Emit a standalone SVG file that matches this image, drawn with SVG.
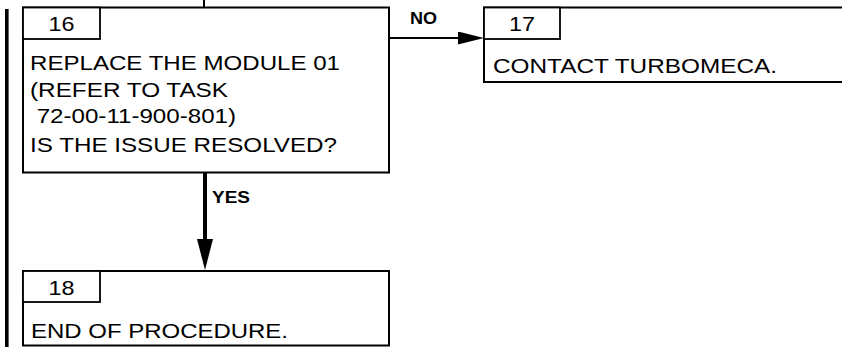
<svg xmlns="http://www.w3.org/2000/svg" width="842" height="347" viewBox="0 0 842 347">
  <style>
    .box { fill: #fff; stroke: #000; stroke-width: 2; }
    .tab { fill: #fff; stroke: #000; stroke-width: 1.8; }
    .t { font-family: "Liberation Sans", Arial, sans-serif; font-size: 21px; fill: #000; }
    .num { text-anchor: middle; }
    .lbl { font-family: "Liberation Sans", Arial, sans-serif; font-size: 16px; font-weight: bold; fill: #000; }
    .conn { fill: none; stroke: #000; }
  </style>
  <defs>
    <marker id="headNo" markerUnits="userSpaceOnUse" markerWidth="26" markerHeight="13" viewBox="0 0 26 13" refX="0" refY="6.5" orient="auto">
      <path d="M0,0 L26,6.5 L0,13 Z" fill="#000"/>
    </marker>
    <marker id="headYes" markerUnits="userSpaceOnUse" markerWidth="31" markerHeight="16" viewBox="0 0 31 16" refX="0" refY="8" orient="auto">
      <path d="M0,0 L31,8 L0,16 Z" fill="#000"/>
    </marker>
  </defs>
  <rect width="842" height="347" fill="#fff"/>

  <!-- left change bar -->
  <rect x="5" y="9" width="3.6" height="338" fill="#000"/>

  <g id="connectors">
    <line class="conn" x1="204" y1="0" x2="204" y2="7" stroke-width="2"/>
    <line class="conn" x1="389" y1="38" x2="458" y2="38" stroke-width="2" marker-end="url(#headNo)"/>
    <line class="conn" x1="205" y1="173" x2="205" y2="239" stroke-width="4" marker-end="url(#headYes)"/>
    <text class="lbl" x="410" y="24" textLength="27" lengthAdjust="spacingAndGlyphs">NO</text>
    <text class="lbl" x="212" y="203" textLength="38" lengthAdjust="spacingAndGlyphs">YES</text>
  </g>

  <g id="node16">
    <rect class="box" x="23" y="7.5" width="366" height="165"/>
    <rect class="tab" x="23" y="7.5" width="77" height="31.5"/>
    <text class="t num" x="61.5" y="31" textLength="26" lengthAdjust="spacingAndGlyphs">16</text>
    <text class="t" x="30" y="70" textLength="310" lengthAdjust="spacingAndGlyphs">REPLACE THE MODULE 01</text>
    <text class="t" x="30" y="97" textLength="198" lengthAdjust="spacingAndGlyphs">(REFER TO TASK</text>
    <text class="t" x="30" y="123" textLength="206" lengthAdjust="spacingAndGlyphs" xml:space="preserve"> 72-00-11-900-801)</text>
    <text class="t" x="30" y="152" textLength="307" lengthAdjust="spacingAndGlyphs">IS THE ISSUE RESOLVED?</text>
  </g>

  <g id="node17">
    <rect class="box" x="484" y="7.5" width="370" height="74.5"/>
    <rect class="tab" x="484" y="7.5" width="76" height="31.5"/>
    <text class="t num" x="522" y="31" textLength="26" lengthAdjust="spacingAndGlyphs">17</text>
    <text class="t" x="493" y="73" textLength="284" lengthAdjust="spacingAndGlyphs">CONTACT TURBOMECA.</text>
  </g>

  <g id="node18">
    <rect class="box" x="23" y="271" width="366" height="74.5"/>
    <rect class="tab" x="23" y="271" width="77" height="31"/>
    <text class="t num" x="61.5" y="295" textLength="26" lengthAdjust="spacingAndGlyphs">18</text>
    <text class="t" x="31" y="338" textLength="257" lengthAdjust="spacingAndGlyphs">END OF PROCEDURE.</text>
  </g>
</svg>
